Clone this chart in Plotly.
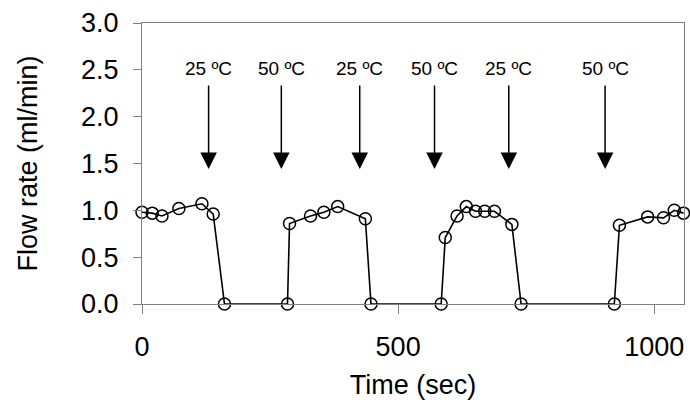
import plotly.graph_objects as go

# Data
time_sec = [0, 20, 39, 72, 117, 139, 161, 284, 288, 329, 355, 382, 436, 447,
            584, 592, 615, 633, 651, 669, 688, 722, 740, 922, 932, 987, 1018, 1039, 1057]
flow_rate = [0.98, 0.97, 0.94, 1.02, 1.07, 0.96, 0.0, 0.0, 0.86, 0.94, 0.98, 1.04, 0.91, 0.0,
             0.0, 0.71, 0.94, 1.04, 0.99, 0.99, 0.99, 0.85, 0.0, 0.0, 0.84, 0.93, 0.92, 1.0, 0.97]

switch_times = [130, 272, 425, 571, 716, 904]
switch_labels = ["25 ºC", "50 ºC", "25 ºC", "50 ºC", "25 ºC", "50 ºC"]
arrow_top = 2.35
arrow_tip = 1.44
label_y = 2.51

x_ticks = [0, 500, 1000]
y_ticks = [0.0, 0.5, 1.0, 1.5, 2.0, 2.5, 3.0]

FONT = "Liberation Sans, Arial, sans-serif"
AXIS_COLOR = "#808080"

fig = go.Figure()
fig.add_trace(go.Scatter(
    x=time_sec, y=flow_rate, mode="lines+markers",
    line=dict(color="black", width=1.6),
    marker=dict(symbol="circle-open", size=12, color="black", line=dict(width=1.5, color="black")),
    cliponaxis=False, showlegend=False,
))

for t, lab in zip(switch_times, switch_labels):
    fig.add_annotation(x=t, y=arrow_tip, ax=t, ay=arrow_top, axref="x", ayref="y",
                       xref="x", yref="y", text="", showarrow=True,
                       arrowhead=2, arrowsize=2.2, arrowwidth=1.5, arrowcolor="black",
                       standoff=0, startstandoff=0)
    fig.add_annotation(x=t, y=label_y, xref="x", yref="y", text=lab, showarrow=False,
                       font=dict(family=FONT, size=19, color="black"))

fig.update_layout(
    width=690, height=412,
    margin=dict(l=142, r=6, t=23, b=108, autoexpand=False),
    paper_bgcolor="white", plot_bgcolor="white",
    font=dict(family=FONT, size=27, color="black"),
)
fig.update_xaxes(
    range=[0, 1058], tickvals=x_ticks, ticktext=[str(v) for v in x_ticks],
    showgrid=False, zeroline=False, showline=True, linecolor=AXIS_COLOR, linewidth=1,
    mirror=True, ticks="outside", ticklen=9, tickcolor=AXIS_COLOR, tickwidth=1,
    ticklabelstandoff=10,
    title=dict(text="Time (sec)", font=dict(size=27), standoff=13),
)
fig.update_yaxes(
    range=[0, 3], tickvals=y_ticks, ticktext=[f"{v:.1f}" for v in y_ticks],
    showgrid=False, zeroline=False, showline=True, linecolor=AXIS_COLOR, linewidth=1,
    mirror=True, ticks="outside", ticklen=8, tickcolor=AXIS_COLOR, tickwidth=1,
    ticklabelstandoff=9,
    title=dict(text="Flow rate (ml/min)", font=dict(size=27), standoff=35),
)

fig.write_html("out.html", config={"displayModeBar": False},
               post_script="document.body.style.margin='0';")
